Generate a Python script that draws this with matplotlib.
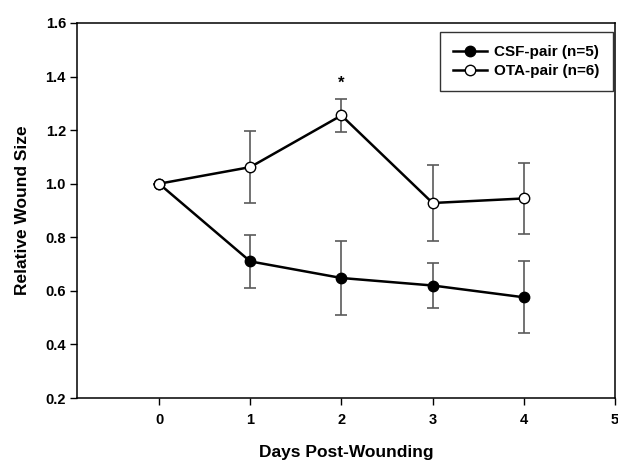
import matplotlib.pyplot as plt

days = [0, 1, 2, 3, 4]
csf_mean = [1.0, 0.71, 0.648, 0.62, 0.576]
csf_err = [0.0, 0.10, 0.137, 0.085, 0.135]
ota_mean = [1.0, 1.062, 1.255, 0.928, 0.945]
ota_err = [0.0, 0.134, 0.062, 0.142, 0.134]

plt.rcParams['font.family'] = ['Liberation Sans', 'DejaVu Sans']
plt.rcParams['font.weight'] = 'bold'

fig = plt.figure(figsize=(6.18, 4.63), dpi=100)
ax = fig.add_axes([77 / 618, 1 - 398 / 463, (615 - 77) / 618, (398 - 23) / 463])

ax.errorbar(days, csf_mean, yerr=csf_err, fmt='none', ecolor='#5a5a5a',
            elinewidth=1.2, capsize=4.3, capthick=1.2, zorder=1)
ax.errorbar(days, ota_mean, yerr=ota_err, fmt='none', ecolor='#5a5a5a',
            elinewidth=1.2, capsize=4.3, capthick=1.2, zorder=1)
ax.plot(days, csf_mean, '-o', color='black', lw=1.8, ms=7.5,
        mfc='black', mec='black', label='CSF-pair (n=5)', zorder=3)
ax.plot(days, ota_mean, '-o', color='black', lw=1.8, ms=7.5,
        mfc='white', mec='black', mew=1, label='OTA-pair (n=6)', zorder=3)

ax.text(2, 1.375, '*', ha='center', va='center', fontsize=12, fontweight='bold')

ax.set_xlim(-0.9, 5)
ax.set_ylim(0.2, 1.6)
ax.set_xticks([0, 1, 2, 3, 4, 5])
ax.set_yticks([0.2, 0.4, 0.6, 0.8, 1.0, 1.2, 1.4, 1.6])
ax.set_yticklabels(['0.2', '0.4', '0.6', '0.8', '1.0', '1.2', '1.4', '1.6'])
ax.tick_params(axis='both', direction='out', length=5, width=1, labelsize=10.5)
ax.tick_params(axis='x', pad=6)
ax.tick_params(axis='y', pad=3)
for s in ax.spines.values():
    s.set_linewidth(1.1)

ax.set_xlabel('Days Post-Wounding', fontsize=12.5, fontweight='bold', labelpad=13)
ax.set_ylabel('Relative Wound Size', fontsize=12.5, fontweight='bold', labelpad=11)

leg = ax.legend(loc='upper right', bbox_to_anchor=(0.9955, 0.976), fontsize=11,
                frameon=True, fancybox=False, shadow=False, handlelength=2.2,
                borderpad=0.85, labelspacing=0.35, handletextpad=0.5,
                borderaxespad=0)
leg.get_frame().set_edgecolor('black')
leg.get_frame().set_linewidth(1)

fig.savefig('out.png', dpi=100)
